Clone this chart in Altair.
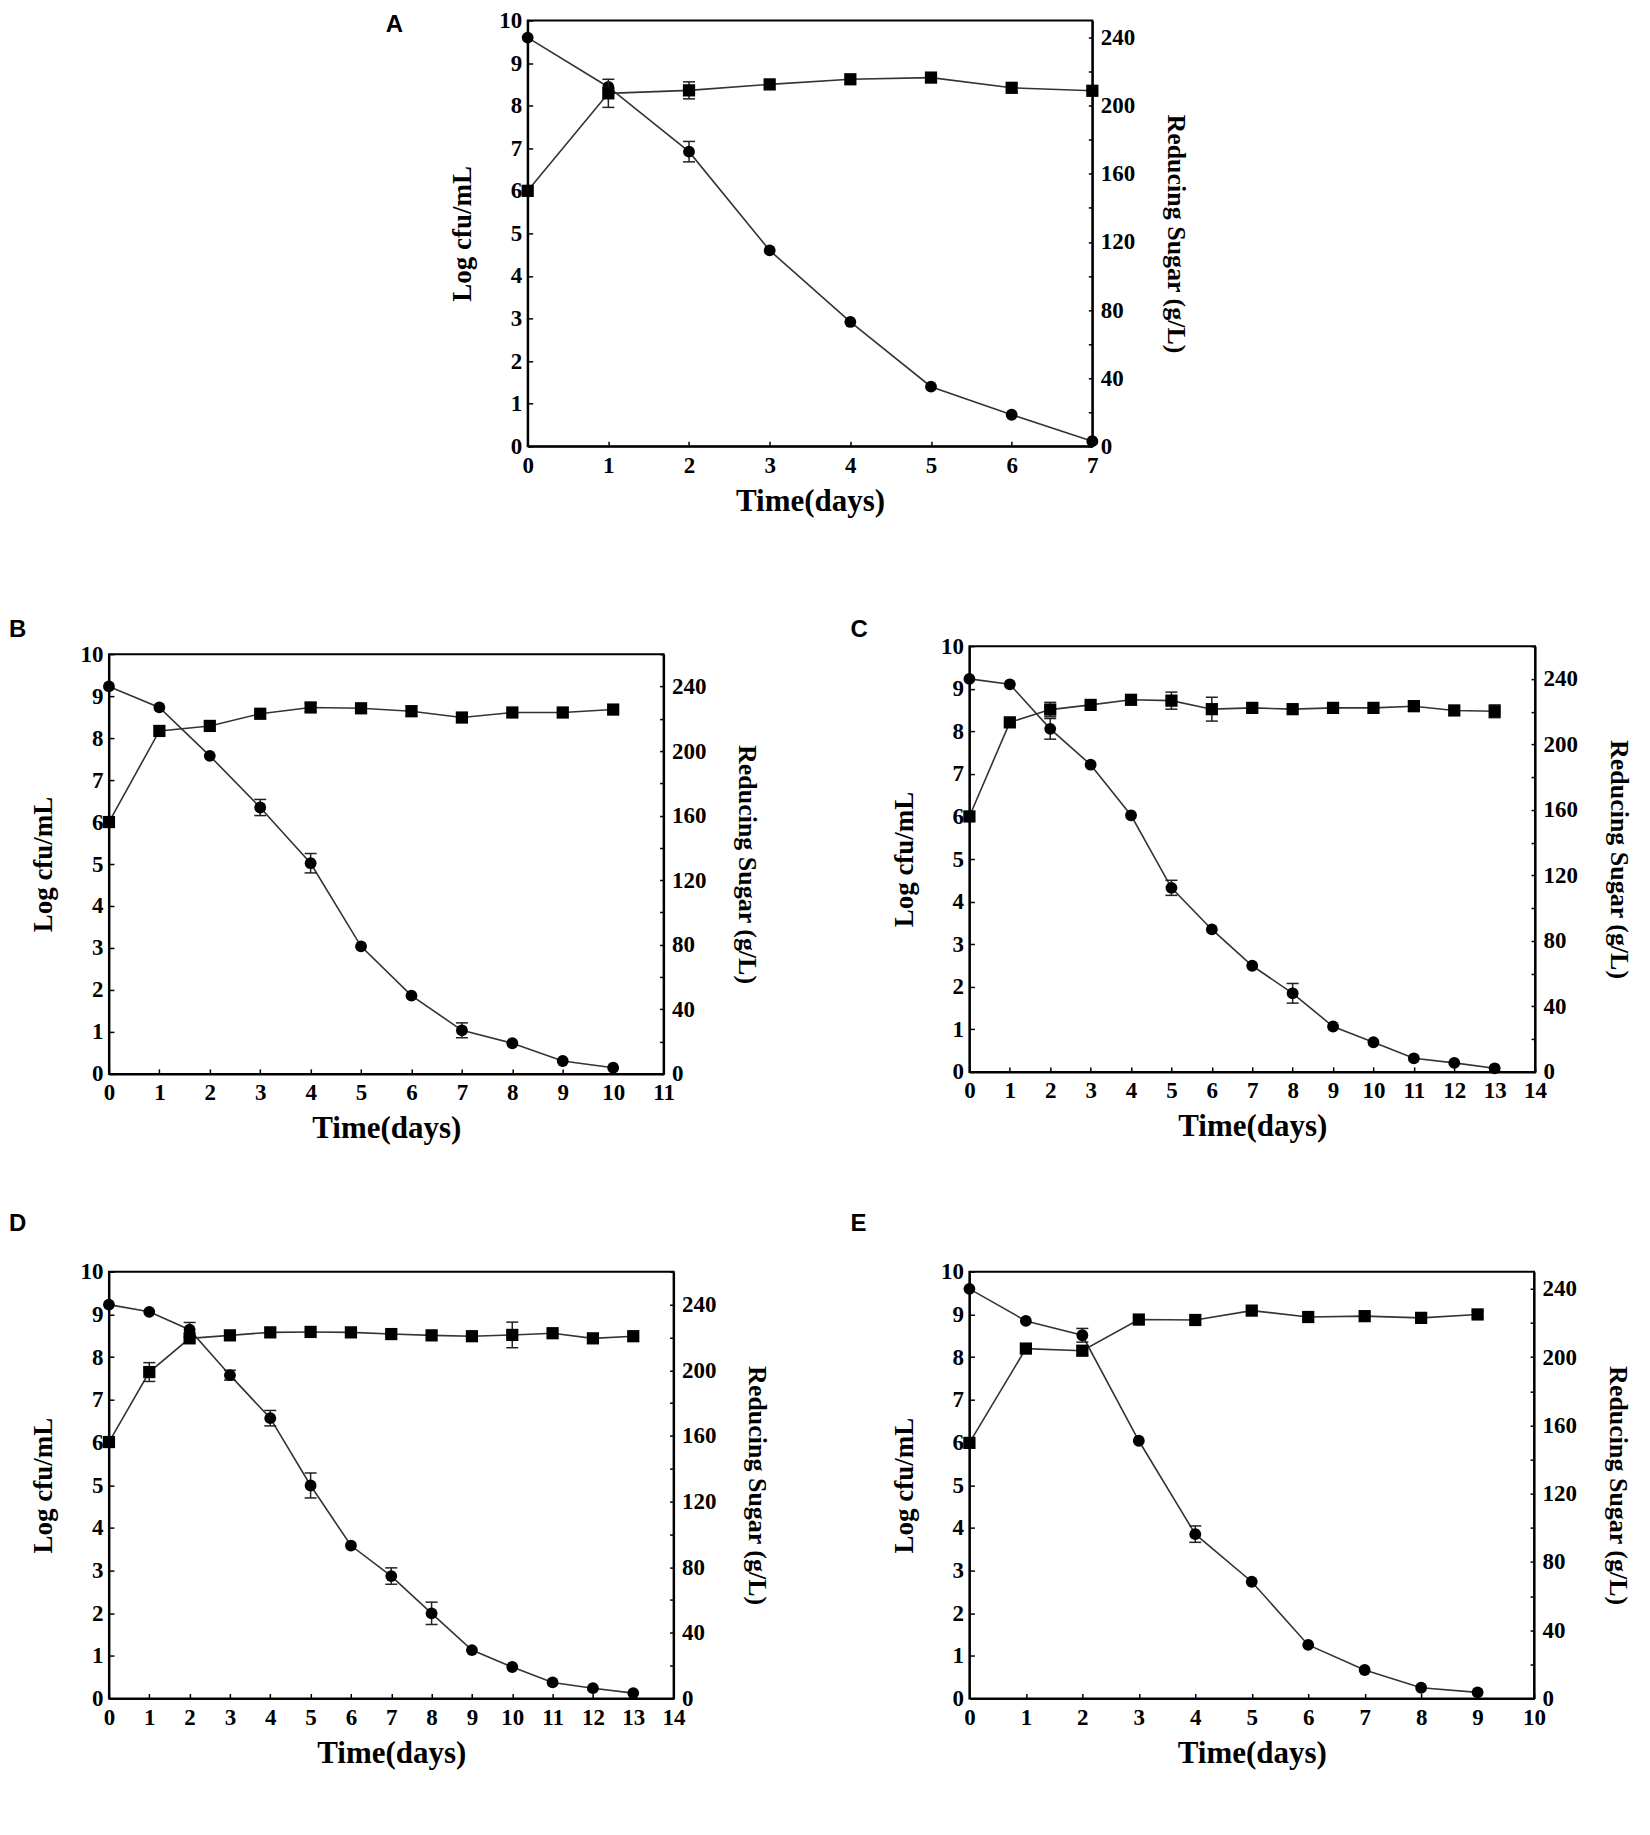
import altair as alt
import pandas as pd

SERIF = "Liberation Serif"
SANS = "Liberation Sans"
LINE = "#333333"

# ---------------- data ----------------
# Panel A
A_days = [0, 1, 2, 3, 4, 5, 6, 7]
A_cfu = [6.0, 8.29, 8.36, 8.50, 8.62, 8.66, 8.42, 8.35]
A_cfu_err = [0, 0.33, 0.20, 0, 0, 0, 0, 0]
A_sugar = [240, 211, 173, 115, 73, 35, 18.5, 3]
A_sugar_err = [0, 0, 6, 0, 0, 0, 0, 0]

# Panel B
B_days = [0, 1, 2, 3, 4, 5, 6, 7, 8, 9, 10]
B_cfu = [6.0, 8.17, 8.29, 8.58, 8.73, 8.71, 8.64, 8.49, 8.61, 8.61, 8.68]
B_cfu_err = [0, 0, 0, 0, 0.10, 0, 0.12, 0, 0, 0, 0]
B_sugar = [240, 227, 197, 165, 130.5, 79, 48.5, 27, 19, 8, 3.8]
B_sugar_err = [0, 0, 0, 5, 6, 0, 0, 4.6, 0, 0, 0]

# Panel C
C_days = list(range(14))
C_cfu = [6.0, 8.21, 8.51, 8.62, 8.74, 8.72, 8.52, 8.55, 8.52, 8.55, 8.55, 8.59, 8.49, 8.47]
C_cfu_err = [0, 0, 0.17, 0, 0, 0.20, 0.28, 0, 0, 0, 0, 0.12, 0, 0.15]
C_sugar = [240, 236.7, 209.5, 187.6, 156.7, 112.4, 87, 64.8, 48, 27.7, 18.1, 8.3, 5.5, 2.2]
C_sugar_err = [0, 0, 6.3, 0, 0, 4.6, 0, 0, 6, 0, 0, 0, 0, 0]

# Panel D
D_days = list(range(14))
D_cfu = [6.01, 7.65, 8.44, 8.51, 8.58, 8.59, 8.58, 8.54, 8.51, 8.49, 8.52, 8.56, 8.44, 8.49]
D_cfu_err = [0, 0.22, 0, 0, 0, 0, 0, 0, 0, 0, 0.30, 0, 0, 0]
D_sugar = [240, 235.6, 224.7, 197, 170.8, 129.8, 93.2, 74.6, 51.9, 29.5, 19.2, 9.8, 6.3, 3.3]
D_sugar_err = [0, 0, 4.4, 3, 4.7, 7.6, 0, 5, 6.8, 0, 0, 0, 0, 0]

# Panel E
E_days = list(range(10))
E_cfu = [5.99, 8.20, 8.15, 8.88, 8.87, 9.09, 8.94, 8.96, 8.92, 9.0]
E_cfu_err = [0, 0, 0.10, 0, 0, 0, 0, 0, 0, 0.08]
E_sugar = [240, 221.2, 212.8, 151, 96.3, 68.4, 31.4, 16.7, 6.3, 3.6]
E_sugar_err = [0, 0, 4, 0, 4.8, 0, 0, 0, 0, 0]

X_TITLE = "Time(days)"
Y_LEFT_TITLE = "Log cfu/mL"
Y_RIGHT_TITLE = "Reducing Sugar (g/L)"


def panel(label, days, cfu, cfu_err, sugar, sugar_err, xmax, stop, w, h, lx, ly):
    df = pd.DataFrame({"day": days, "cfu": cfu, "cfu_err": cfu_err,
                       "sugar": sugar, "sugar_err": sugar_err})
    df["cfu_lo"] = df["cfu"] - df["cfu_err"]
    df["cfu_hi"] = df["cfu"] + df["cfu_err"]
    df["sugar_lo"] = df["sugar"] - df["sugar_err"]
    df["sugar_hi"] = df["sugar"] + df["sugar_err"]

    x = alt.X("day:Q",
              scale=alt.Scale(domain=[0, xmax], nice=False, zero=False),
              axis=alt.Axis(values=list(range(xmax + 1)), format="d", title=X_TITLE,
                            tickSize=alt.ExprRef(expr="-5"), labelPadding=13,
                            labelFlush=False, labelOverlap=False,
                            titleY=55, titleBaseline="middle", titleFontSize=31))

    lscale = alt.Scale(domain=[0, 10], nice=False)
    laxis = alt.Axis(orient="left", values=list(range(11)), format="d", title=Y_LEFT_TITLE,
                     tickSize=alt.ExprRef(expr="-5"), labelPadding=11,
                     labelFlush=False, labelOverlap=False,
                     titleX=-65, titleBaseline="middle", titleFontSize=27)
    rscale = alt.Scale(domain=[0, stop], nice=False)
    raxis = alt.Axis(orient="right", values=list(range(0, stop + 1, 20)),
                     labelExpr="datum.value % 40 === 0 ? datum.label : ''",
                     title=Y_RIGHT_TITLE,
                     tickSize=alt.ExprRef(expr="-4"), labelPadding=12,
                     labelFlush=False, labelOverlap=False,
                     titleX=83, titleBaseline="middle", titleFontSize=26)

    base = alt.Chart(df)

    def group(field, scale, axis, point_mark):
        layers = [base.mark_line(color=LINE, strokeWidth=1.6).encode(
            x=x, y=alt.Y(f"{field}:Q", scale=scale, axis=axis))]
        err = df[df[f"{field}_err"] > 0]
        if len(err):
            eb = alt.Chart(err)
            layers.append(eb.mark_rule(color="#222222", strokeWidth=1.5).encode(
                x=x, y=alt.Y(f"{field}_lo:Q", scale=scale, axis=axis), y2=f"{field}_hi:Q"))
            for end in ("lo", "hi"):
                layers.append(eb.mark_tick(orient="horizontal", size=12, thickness=1.5,
                                           color="#222222", opacity=1).encode(
                    x=x, y=alt.Y(f"{field}_{end}:Q", scale=scale, axis=axis)))
        layers.append(point_mark.encode(x=x, y=alt.Y(f"{field}:Q", scale=scale, axis=axis)))
        return alt.layer(*layers)

    right = group("sugar", rscale, raxis,
                  base.mark_circle(size=140, color="black", opacity=1))
    left = group("cfu", lscale, laxis,
                 base.mark_square(size=150, color="black", opacity=1))

    txt = alt.Chart(pd.DataFrame({"t": [label]})).mark_text(
        align="left", baseline="top", font=SANS, fontWeight="bold",
        fontSize=24, color="black").encode(text="t:N", x=alt.value(lx), y=alt.value(ly))

    return alt.layer(right, left, txt).resolve_scale(y="independent").properties(
        width=w, height=h)


def spacer(w, h):
    return alt.Chart(pd.DataFrame({"v": [0]})).mark_point(opacity=0).encode(
        x=alt.X("v:Q", axis=None), y=alt.Y("v:Q", axis=None)
    ).properties(width=w, height=h, view=alt.ViewBackground(strokeOpacity=0))


pA = panel("A", A_days, A_cfu, A_cfu_err, A_sugar, A_sugar_err, 7, 250, 565, 426, -142, -8)
pB = panel("B", B_days, B_cfu, B_cfu_err, B_sugar, B_sugar_err, 11, 260, 555, 420, -100, -36)
pC = panel("C", C_days, C_cfu, C_cfu_err, C_sugar, C_sugar_err, 14, 260, 566, 426, -119, -28)
pD = panel("D", D_days, D_cfu, D_cfu_err, D_sugar, D_sugar_err, 14, 260, 565, 427, -100, -60)
pE = panel("E", E_days, E_cfu, E_cfu_err, E_sugar, E_sugar_err, 10, 250, 565, 427, -119, -60)

rowA = alt.hconcat(spacer(118, 10), pA, spacing=301, bounds="flush")
colB = alt.vconcat(spacer(10, 1), pB, spacing=7, bounds="flush")
rowBC = alt.hconcat(colB, pC, spacing=861, bounds="flush")
rowDE = alt.hconcat(pD, pE, spacing=296, bounds="flush")

chart = alt.vconcat(
    rowA, rowBC, rowDE, spacing=626, bounds="flush",
).properties(
    padding={"left": 0, "top": 0, "right": 10, "bottom": 10},
    background="white",
).configure_view(
    stroke="black", strokeWidth=2
).configure_axis(
    labelFont=SERIF, labelFontWeight="bold", labelFontSize=23, labelColor="black",
    titleFont=SERIF, titleFontWeight="bold", titleColor="black",
    domainColor="black", domainWidth=2, tickColor="black", tickWidth=1.5, grid=False,
)

chart.save("out.html", embed_options={"renderer": "svg", "actions": False})
